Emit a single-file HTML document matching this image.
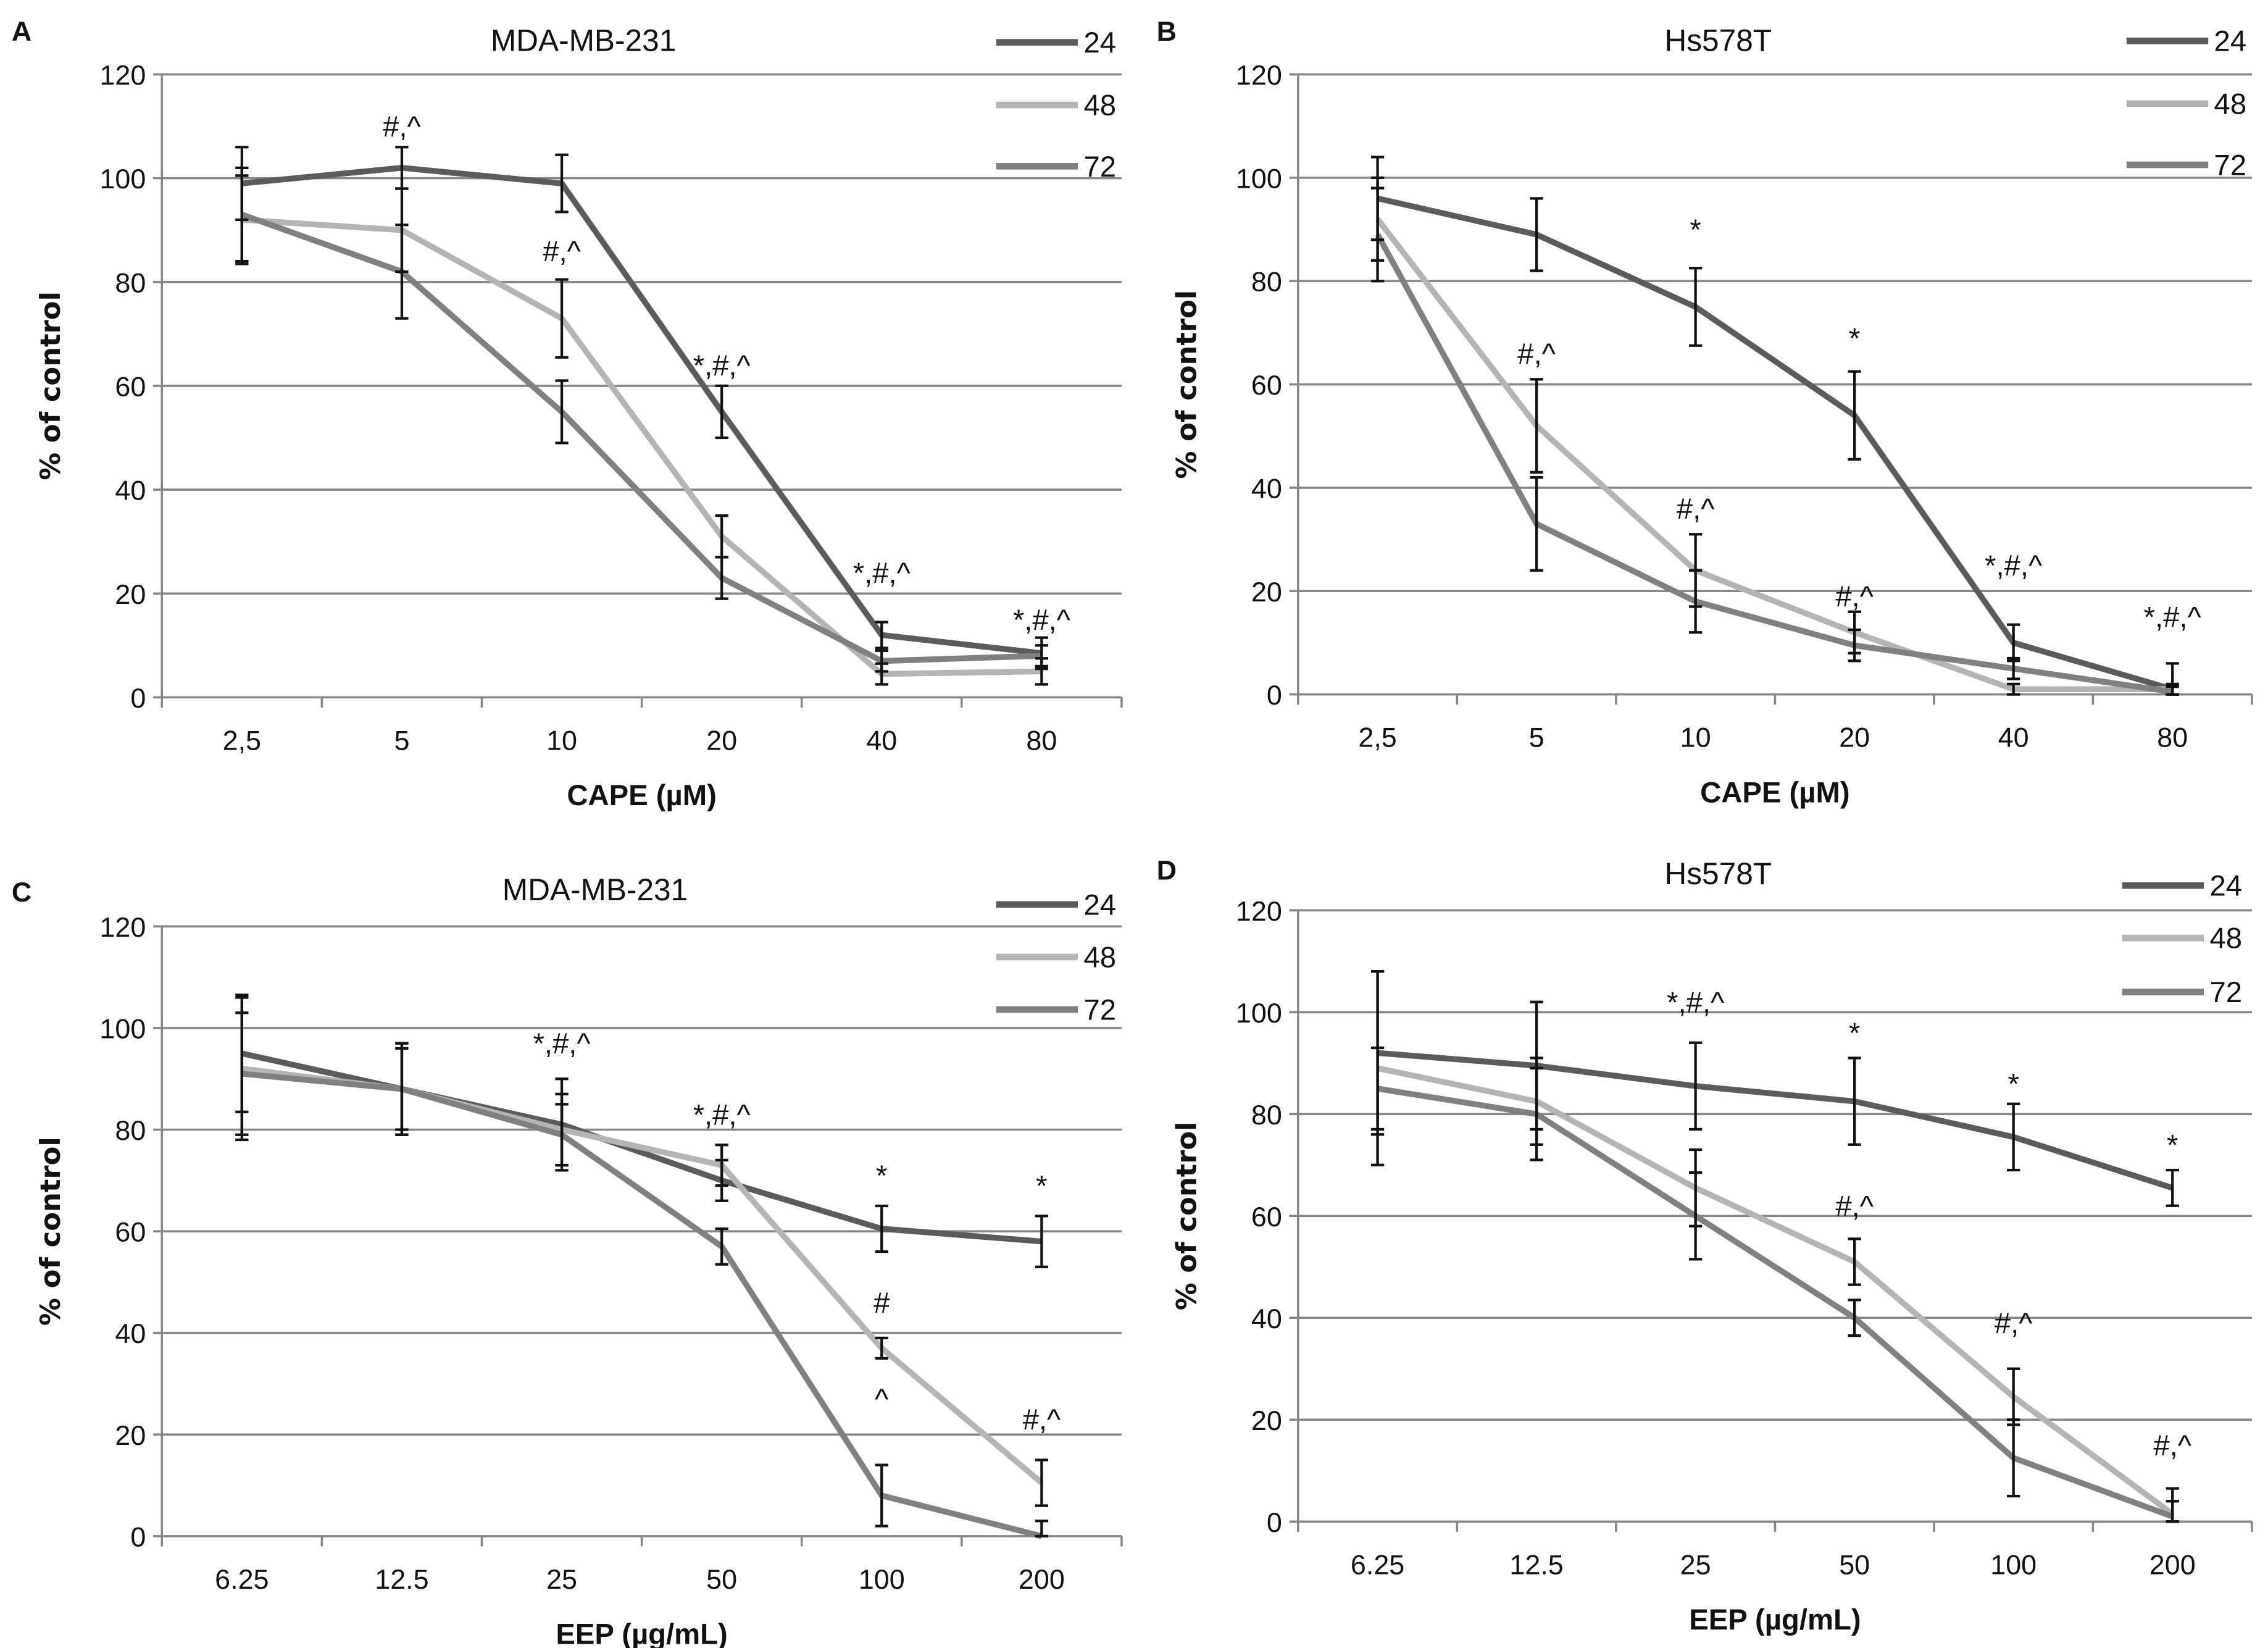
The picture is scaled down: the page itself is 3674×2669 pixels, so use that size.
<!DOCTYPE html>
<html><head><meta charset="utf-8"><style>
html,body{margin:0;padding:0;background:#fff;}
svg{display:block;font-family:"Liberation Sans Narrow","Liberation Sans",sans-serif;}
</style></head><body>
<svg id="fig" xmlns="http://www.w3.org/2000/svg" width="3674" height="2669" viewBox="0 0 1555 1129.65"></svg>
<script>
const seriesNames = ["24","48","72"];
const catsCAPE = ["2,5","5","10","20","40","80"];
const catsEEP = ["6.25","12.5","25","50","100","200"];
const yTicks = [0,20,40,60,80,100,120];

const a24 = [99,102,99,55,12,8.5];   const a24e = [7,4,5.5,5,2.5,3];
const a48 = [92,90,73,31,4.5,5];     const a48e = [8.5,8,7.5,4,2,2.5];
const a72 = [93,82,55,23,7,8];       const a72e = [9,9,6,4,2,2];
const aNotes = [[1,110,"#,^"],[2,86,"#,^"],[3,64,"*,#,^"],[4,24,"*,#,^"],[5,15,"*,#,^"]];

const b24 = [96,89,75,54,10,1];      const b24e = [8,7,7.5,8.5,3.5,5];
const b48 = [92,52,24,12,1,1];       const b48e = [8,9,7,4,1,1];
const b72 = [89,33,18,9.5,5,0.5];    const b72e = [9,9,6,3,2,1];
const bNotes = [[2,90,"*"],[3,69,"*"],[1,66,"#,^"],[2,36,"#,^"],[3,19,"#,^"],[4,25,"*,#,^"],[5,15,"*,#,^"]];

const c24 = [95,88,81,70,60.5,58];   const c24e = [11.5,9,9,4,4.5,5];
const c48 = [92,88,80,73,37,10.5];   const c48e = [14,9,7,4,2,4.5];
const c72 = [91,88,79,57,8,0];       const c72e = [12,8,6,3.5,6,3];
const cNotes = [[2,97,"*,#,^"],[3,83,"*,#,^"],[4,71,"*"],[5,69,"*"],[4,46,"#"],[4,27,"^"],[5,23,"#,^"]];

const d24 = [92,89.5,85.5,82.5,75.5,65.5]; const d24e = [16,12.5,8.5,8.5,6.5,3.5];
const d48 = [89,82.5,65.5,51,24.5,1.5];    const d48e = [19,8.5,7.5,4.5,5.5,5];
const d72 = [85,80,60,40,12.5,1];          const d72e = [8,9,8.5,3.5,7.5,3];
const dNotes = [[2,102,"*,#,^"],[3,96,"*"],[4,86,"*"],[5,74,"*"],[3,62,"#,^"],[4,39,"#,^"],[5,15,"#,^"]];

const colors = ["#5b5b5b","#b4b4b4","#808080"];
const NS = "http://www.w3.org/2000/svg";
const svg = document.getElementById('fig');
function mk(tag, attrs, parent, text){
  const e = document.createElementNS(NS, tag);
  for (const k in attrs) e.setAttribute(k, attrs[k]);
  if (text !== undefined) e.textContent = text;
  parent.appendChild(e); return e;
}
function panel(cfg){
  const g = mk('g', {}, svg);
  
  
  const n = cfg.cats.length, bw = (cfg.x1 - cfg.x0) / n;
  const xS = i => cfg.x0 + bw * (i + 0.5);
  const yS = v => cfg.yb - (v / 120) * (cfg.yb - cfg.yt);
  yTicks.forEach(t => {
    const l = mk('line', {x1: cfg.x0 - 6, x2: cfg.x1, y1: yS(t), y2: yS(t), stroke: '#868686', 'stroke-width': 1.5}, g);
    
    
    const tl = mk('text', {x: cfg.x0 - 11, y: yS(t) + 7, 'text-anchor': 'end', 'font-size': 19, fill: '#111'}, g, String(t));
    
    
  });
  const ax = mk('line', {x1: cfg.x0, x2: cfg.x0, y1: cfg.yt, y2: cfg.yb, stroke: '#868686', 'stroke-width': 1.5}, g);
  
  
  for (let i = 0; i <= n; i++) {
    const tk = mk('line', {x1: cfg.x0 + bw * i, x2: cfg.x0 + bw * i, y1: cfg.yb, y2: cfg.yb + 7, stroke: '#868686', 'stroke-width': 1.5}, g);
    
    
  }
  cfg.cats.forEach((c, i) => {
    const t = mk('text', {x: xS(i), y: cfg.yb + 36, 'text-anchor': 'middle', 'font-size': 19, fill: '#111'}, g, c);
    
    
  });
  cfg.series.forEach((s, k) => {
    const pts = s.map((v, i) => xS(i) + ',' + yS(v)).join(' ');
    const pl = mk('polyline', {points: pts, fill: 'none', stroke: colors[k], 'stroke-width': 4, 'stroke-linejoin': 'round'}, g);
    
    
  });
  cfg.series.forEach((s, k) => {
    s.forEach((v, i) => {
      const e = cfg.errs[k][i], x = xS(i), y1 = yS(v + e), y2 = yS(Math.max(0, v - e));
      const eg = mk('g', {stroke: '#111', 'stroke-width': 1.8}, g);
      
      
      mk('line', {x1: x, x2: x, y1: y1, y2: y2}, eg);
      mk('line', {x1: x - 4.5, x2: x + 4.5, y1: y1, y2: y1}, eg);
      mk('line', {x1: x - 4.5, x2: x + 4.5, y1: y2, y2: y2}, eg);
    });
  });
  cfg.notes.forEach(nt => {
    const t = mk('text', {x: xS(nt[0]), y: yS(nt[1]) + 7, 'text-anchor': 'middle', 'font-size': 20, fill: '#111'}, g, nt[2]);
    
    
  });
  seriesNames.forEach((s, k) => {
    const ly = cfg.legY[k];
    const ll = mk('line', {x1: cfg.legX, x2: cfg.legX + 56, y1: ly, y2: ly, stroke: colors[k], 'stroke-width': 4.5}, g);
    
    
    const lt = mk('text', {x: cfg.legX + 60, y: ly + 7, 'font-size': 20, fill: '#111'}, g, s);
    
    
  });
  const ti = mk('text', {x: cfg.titleX, y: cfg.titleY, 'text-anchor': 'middle', 'font-size': 21, fill: '#111'}, g, cfg.title);
  
  
  const le = mk('text', {x: cfg.letX, y: cfg.letY, 'font-size': 19, 'font-weight': 'bold', fill: '#111', 'font-family': 'Liberation Sans, sans-serif'}, g, cfg.id);
  
  
  const xt = mk('text', {x: (cfg.x0 + cfg.x1) / 2, y: cfg.yb + 74, 'text-anchor': 'middle', 'font-size': 20, 'font-weight': 'bold', fill: '#111'}, g, cfg.xTitle);
  
  
  const cy = (cfg.yt + cfg.yb) / 2, cx = cfg.x0 - 70;
  const yt = mk('text', {x: cx, y: cy, 'text-anchor': 'middle', 'font-size': 19, 'font-weight': 'bold', fill: '#111', 'font-family': 'DejaVu Sans, sans-serif', transform: 'rotate(-90 ' + cx + ' ' + cy + ')'}, g, '% of control');
  
  
}
panel({id:'A', x0:111, x1:769, yt:51, yb:478, cats:catsCAPE, series:[a24,a48,a72], errs:[a24e,a48e,a72e], notes:aNotes,
  legX:683, legY:[29,72,114], title:'MDA-MB-231', titleX:400, titleY:35, letX:8, letY:28, xTitle:'CAPE (µM)'});
panel({id:'B', x0:890, x1:1544, yt:51, yb:476, cats:catsCAPE, series:[b24,b48,b72], errs:[b24e,b48e,b72e], notes:bNotes,
  legX:1458, legY:[28,71,113], title:'Hs578T', titleX:1178, titleY:35, letX:793, letY:28, xTitle:'CAPE (µM)'});
panel({id:'C', x0:111, x1:769, yt:635, yb:1053, cats:catsEEP, series:[c24,c48,c72], errs:[c24e,c48e,c72e], notes:cNotes,
  legX:683, legY:[620,656,692], title:'MDA-MB-231', titleX:408, titleY:617, letX:8, letY:618, xTitle:'EEP (µg/mL)'});
panel({id:'D', x0:890, x1:1544, yt:624, yb:1043, cats:catsEEP, series:[d24,d48,d72], errs:[d24e,d48e,d72e], notes:dNotes,
  legX:1455, legY:[607,643,680], title:'Hs578T', titleX:1178, titleY:606, letX:793, letY:603, xTitle:'EEP (µg/mL)'});
</script>
</body></html>
